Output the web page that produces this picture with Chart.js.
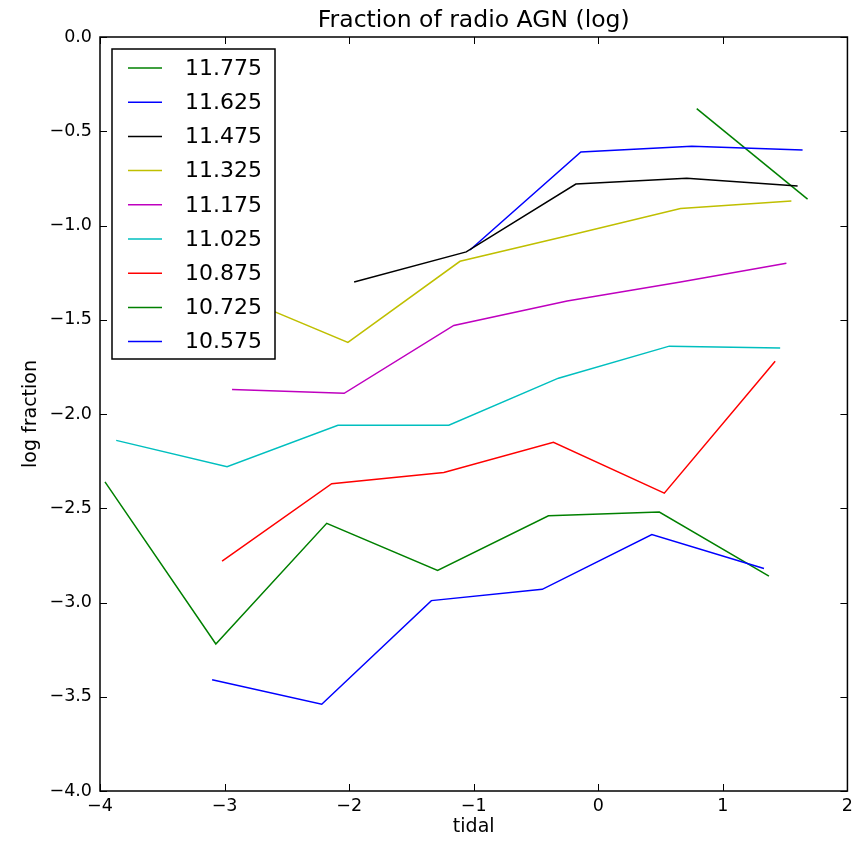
<!DOCTYPE html>
<html>
<head>
<meta charset="utf-8">
<script src="https://cdn.jsdelivr.net/npm/chart.js@4.4.1/dist/chart.umd.min.js"></script>
<style>
  html, body { margin: 0; padding: 0; background: #fff; }
  #wrap { width: 858px; height: 841px; }
</style>
</head>
<body>
<div id="wrap"><canvas id="agnFrac"></canvas></div>
<script>
// stellar mass bins, in plotting order (legend shows them reversed)
const massBins = ["10.575", "10.725", "10.875", "11.025", "11.175", "11.325", "11.475", "11.625", "11.775"]
const lineColors = ["#0000ff", "#008000", "#ff0000", "#00bfbf", "#bf00bf", "#bfbf00", "#000000", "#0000ff", "#008000"]

// tidal value per bin and log fraction, one pair of arrays per mass bin
const tidal_10575 = [-3.10, -2.22, -1.34, -0.45, 0.43, 1.33]
const frac_10575  = [-3.41, -3.54, -2.99, -2.93, -2.64, -2.82]
const tidal_10725 = [-3.96, -3.07, -2.18, -1.29, -0.40, 0.49, 1.37]
const frac_10725  = [-2.36, -3.22, -2.58, -2.83, -2.54, -2.52, -2.86]
const tidal_10875 = [-3.02, -2.14, -1.24, -0.36, 0.53, 1.42]
const frac_10875  = [-2.78, -2.37, -2.31, -2.15, -2.42, -1.72]
const tidal_11025 = [-3.87, -2.98, -2.09, -1.20, -0.32, 0.57, 1.46]
const frac_11025  = [-2.14, -2.28, -2.06, -2.06, -1.81, -1.64, -1.65]
const tidal_11175 = [-2.94, -2.04, -1.16, -0.25, 0.66, 1.51]
const frac_11175  = [-1.87, -1.89, -1.53, -1.40, -1.30, -1.20]
const tidal_11325 = [-2.95, -2.01, -1.11, -0.22, 0.66, 1.55]
const frac_11325  = [-1.36, -1.62, -1.19, -1.05, -0.91, -0.87]
const tidal_11475 = [-1.96, -1.06, -0.18, 0.71, 1.60]
const frac_11475  = [-1.30, -1.14, -0.78, -0.75, -0.79]
const tidal_11625 = [-1.03, -0.14, 0.75, 1.64]
const frac_11625  = [-1.13, -0.61, -0.58, -0.60]
const tidal_11775 = [0.79, 1.68]
const frac_11775  = [-0.38, -0.86]

const tidalSets = [tidal_10575, tidal_10725, tidal_10875, tidal_11025, tidal_11175, tidal_11325, tidal_11475, tidal_11625, tidal_11775]
const fracSets  = [frac_10575, frac_10725, frac_10875, frac_11025, frac_11175, frac_11325, frac_11475, frac_11625, frac_11775]

const FONT = "'DejaVu Sans', sans-serif"
const minus = v => String(v).replace('-', '\u2212')

// matplotlib-ish frame, inward ticks on all four sides and the boxed legend
const axesDecor = {
    id: 'axesDecor',
    afterDatasetsDraw(chart) {
        const {ctx, chartArea: a, scales: {x, y}} = chart
        ctx.save()
        ctx.strokeStyle = '#000'
        ctx.lineWidth = 1
        const seg = (x1, y1, x2, y2) => { ctx.beginPath(); ctx.moveTo(x1, y1); ctx.lineTo(x2, y2); ctx.stroke() }
        x.ticks.forEach(t => {
            const px = Math.round(x.getPixelForValue(t.value)) + 0.5
            seg(px, a.bottom, px, a.bottom - 7)
            seg(px, a.top, px, a.top + 7)
        })
        y.ticks.forEach(t => {
            const py = Math.round(y.getPixelForValue(t.value)) + 0.5
            seg(a.left, py, a.left + 7, py)
            seg(a.right, py, a.right - 7, py)
        })
        ctx.lineWidth = 1.5
        ctx.strokeRect(a.left, a.top, a.right - a.left, a.bottom - a.top)

        // legend, top entry = last dataset
        const bx = a.left + 12, by = a.top + 12, bw = 163, bh = 310, rowH = 34.2
        ctx.fillStyle = '#fff'
        ctx.fillRect(bx, by, bw, bh)
        ctx.lineWidth = 1.5
        ctx.strokeStyle = '#000'
        ctx.strokeRect(bx, by, bw, bh)
        ctx.font = "22px " + FONT
        ctx.textBaseline = 'middle'
        ctx.textAlign = 'left'
        const sets = chart.data.datasets.slice().reverse()
        sets.forEach((ds, i) => {
            const cy = by + 19 + i * rowH
            ctx.strokeStyle = ds.borderColor
            ctx.lineWidth = 1.5
            seg(bx + 16, cy, bx + 50, cy)
            ctx.fillStyle = '#000'
            ctx.fillText(ds.label, bx + 73, cy + 1)
        })
        ctx.restore()
    }
}

const datasets = massBins.map((m, i) => ({
    label: m,
    data: tidalSets[i].map((t, j) => ({x: t, y: fracSets[i][j]})),
    borderColor: lineColors[i],
    backgroundColor: lineColors[i],
    borderWidth: 1.5,
    pointRadius: 0,
    tension: 0,
    fill: false
}))

const ctx = document.getElementById('agnFrac').getContext('2d')
const agnChart = new Chart(ctx, {
    type: 'line',
    data: { datasets: datasets },
    options: {
        responsive: true,
        maintainAspectRatio: false,
        animation: false,
        layout: { padding: { left: 0, right: 10, top: 0, bottom: 0 } },
        plugins: {
            legend: { display: false },
            tooltip: { enabled: false },
            title: {
                display: true,
                fullSize: false,
                text: 'Fraction of radio AGN (log)',
                color: '#000',
                font: { family: FONT, size: 23.5, weight: 'normal' },
                padding: { top: 6.9, bottom: 1.9 }
            }
        },
        scales: {
            x: {
                type: 'linear',
                min: -4, max: 2,
                grid: { display: false, drawTicks: false },
                border: { display: false },
                ticks: {
                    stepSize: 1,
                    padding: 5,
                    color: '#000',
                    font: { family: FONT, size: 17.5 },
                    callback: v => minus(v)
                },
                title: {
                    display: true,
                    text: 'tidal',
                    color: '#000',
                    font: { family: FONT, size: 19 },
                    padding: { top: 0, bottom: 3 }
                },
                afterFit: s => { s.height = 50 }
            },
            y: {
                min: -4, max: 0,
                grid: { display: false, drawTicks: false },
                border: { display: false },
                ticks: {
                    stepSize: 0.5,
                    padding: 8,
                    color: '#000',
                    font: { family: FONT, size: 17.5 },
                    callback: v => minus(Number(v).toFixed(1))
                },
                title: {
                    display: true,
                    text: 'log fraction',
                    color: '#000',
                    font: { family: FONT, size: 19 },
                    padding: { top: 19.5, bottom: 0 }
                },
                afterFit: s => { s.width = 100 }
            }
        }
    },
    plugins: [axesDecor]
})
</script>
</body>
</html>
